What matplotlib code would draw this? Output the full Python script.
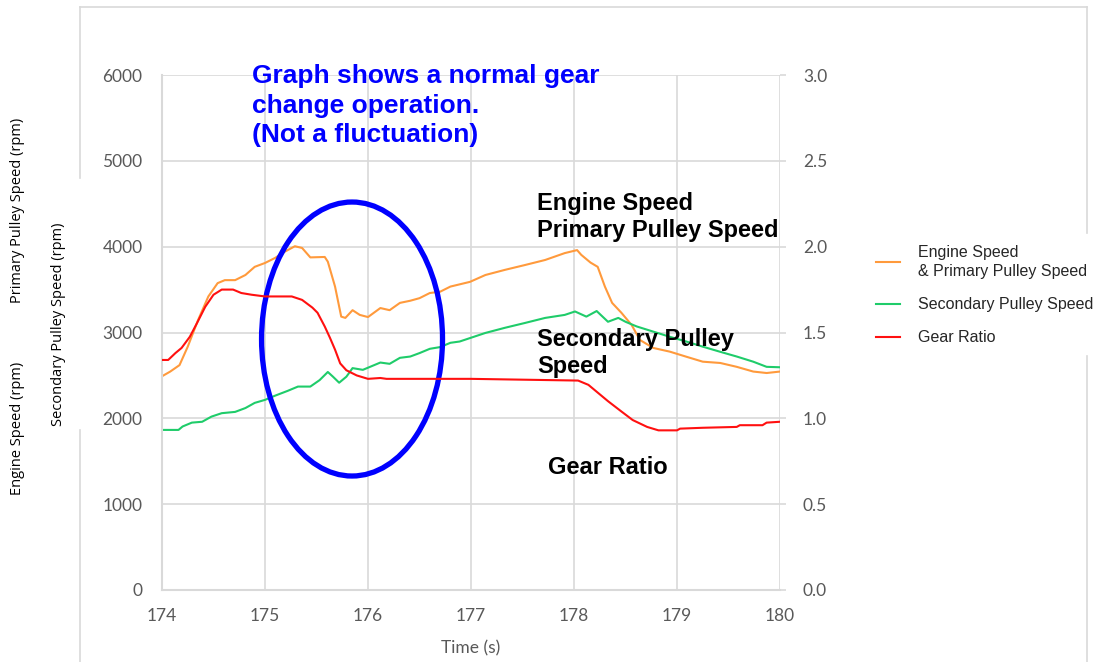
import matplotlib
matplotlib.use('Agg')
import matplotlib.pyplot as plt
from matplotlib.patches import Ellipse
from matplotlib.lines import Line2D

# data
eng_t = [174.00, 174.08, 174.17, 174.25, 174.35, 174.45, 174.54, 174.61, 174.71, 174.81,
         174.90, 175.00, 175.10, 175.19, 175.29, 175.36, 175.44, 175.58, 175.61, 175.68,
         175.74, 175.78, 175.85, 175.92, 176.00, 176.12, 176.21, 176.31, 176.41, 176.50,
         176.60, 176.70, 176.80, 176.99, 177.14, 177.33, 177.52, 177.72, 177.91, 178.03,
         178.07, 178.16, 178.23, 178.30, 178.37, 178.46, 178.56, 178.64, 178.77, 178.93,
         179.09, 179.25, 179.42, 179.58, 179.74, 179.87, 180.00]
eng_rpm = [2490, 2545, 2620, 2835, 3145, 3420, 3575, 3610, 3610, 3670,
           3765, 3810, 3870, 3940, 4005, 3985, 3875, 3880, 3825, 3535,
           3185, 3170, 3260, 3205, 3180, 3285, 3260, 3345, 3370, 3400,
           3460, 3475, 3535, 3590, 3670, 3730, 3785, 3845, 3925, 3960,
           3905, 3815, 3765, 3535, 3345, 3230, 3087, 2913, 2820, 2777,
           2718, 2660, 2645, 2600, 2545, 2528, 2545]

sec_t = [174.00, 174.16, 174.20, 174.29, 174.39, 174.48, 174.58, 174.71, 174.81, 174.90,
         175.00, 175.10, 175.22, 175.32, 175.44, 175.53, 175.61, 175.66, 175.72, 175.79,
         175.85, 175.95, 176.02, 176.12, 176.21, 176.31, 176.41, 176.50, 176.60, 176.70,
         176.80, 176.89, 176.99, 177.14, 177.33, 177.52, 177.72, 177.91, 178.01, 178.12,
         178.22, 178.33, 178.43, 178.50, 178.61, 178.77, 178.93, 179.09, 179.25, 179.42,
         179.58, 179.74, 179.87, 180.00]
sec_rpm = [1865, 1865, 1905, 1950, 1960, 2020, 2060, 2075, 2120, 2180,
           2215, 2265, 2320, 2370, 2370, 2445, 2540, 2485, 2415, 2485,
           2585, 2565, 2600, 2650, 2635, 2705, 2720, 2760, 2810, 2830,
           2880, 2895, 2935, 2995, 3055, 3110, 3170, 3205, 3245, 3185,
           3250, 3125, 3170, 3125, 3070, 3010, 2950, 2895, 2835, 2775,
           2720, 2660, 2600, 2595]

gear_t = [174.00, 174.06, 174.13, 174.19, 174.27, 174.34, 174.42, 174.50, 174.58, 174.69,
          174.77, 174.87, 175.00, 175.16, 175.26, 175.36, 175.46, 175.51, 175.58, 175.63,
          175.68, 175.73, 175.79, 175.89, 176.00, 176.12, 176.18, 177.00, 178.04, 178.14,
          178.23, 178.33, 178.46, 178.57, 178.71, 178.82, 179.00, 179.03, 179.25, 179.58,
          179.61, 179.83, 179.87, 180.00]
gear_ratio = [1.34, 1.34, 1.38, 1.41, 1.475, 1.555, 1.65, 1.72, 1.75, 1.75,
              1.73, 1.72, 1.71, 1.71, 1.71, 1.69, 1.645, 1.615, 1.535, 1.47,
              1.40, 1.32, 1.28, 1.25, 1.23, 1.235, 1.23, 1.23, 1.22, 1.195,
              1.15, 1.10, 1.04, 0.99, 0.95, 0.93, 0.93, 0.94, 0.945, 0.95,
              0.96, 0.96, 0.975, 0.98]

x_ticks = [174, 175, 176, 177, 178, 179, 180]
rpm_ticks = [0, 1000, 2000, 3000, 4000, 5000, 6000]
ratio_ticks = [0.0, 0.5, 1.0, 1.5, 2.0, 2.5, 3.0]

ORANGE = '#ff9a3c'
GREEN = '#1fcc6a'
RED = '#ff1010'
BLUE = '#0000ff'
GRAY = '#595959'
GRID = '#d9d9d9'

W, H = 1114, 662
fig = plt.figure(figsize=(W / 100, H / 100), dpi=100)
ax = fig.add_axes([162 / W, 1 - 590 / H, (780 - 162) / W, (590 - 75) / H])
ax2 = ax.twinx()

l1, = ax.plot(eng_t, eng_rpm, color=ORANGE, lw=1.5)
l2, = ax.plot(sec_t, sec_rpm, color=GREEN, lw=1.5)
l3, = ax2.plot(gear_t, gear_ratio, color=RED, lw=1.5)

ax.set_xlim(174, 180)
ax.set_ylim(0, 6000)
ax2.set_ylim(0, 3.0)
ax.set_xticks(x_ticks)
ax.set_yticks(rpm_ticks)
ax2.set_yticks(ratio_ticks)
ax2.set_yticklabels(['%.1f' % v for v in ratio_ticks])

ax.grid(True, color=GRID, lw=1.2)
ax.set_axisbelow(True)
for a in (ax, ax2):
    for s in a.spines.values():
        s.set_visible(False)
ax.spines['left'].set_visible(True)
ax.spines['left'].set_color(GRID)
ax.spines['left'].set_linewidth(1.5)
ax.spines['bottom'].set_visible(True)
ax.spines['bottom'].set_color(GRID)
ax.spines['bottom'].set_linewidth(1.5)

ax.tick_params(axis='y', length=0, pad=14, colors=GRAY, labelsize=12.5)
ax.tick_params(axis='x', length=0, pad=13, colors=GRAY, labelsize=12.5)
ax2.tick_params(axis='y', length=4.5, width=1.2, color=GRID, pad=12, labelcolor=GRAY, labelsize=12.5)
for lab in ax.get_xticklabels() + ax.get_yticklabels() + ax2.get_yticklabels():
    lab.set_family('Lato')

ax.set_xlabel('Time (s)', family='Lato', size=12.5, color=GRAY, labelpad=12)

# blue circle around the shift
ell = Ellipse((175.845, 2924), 1.757, 3192, fill=False, edgecolor=BLUE, lw=3.8, zorder=5)
ax.add_patch(ell)

fig.text(252 / W, 1 - 64 / H, 'Graph shows a normal gear\nchange operation.\n(Not a fluctuation)',
         family='Liberation Sans', weight='bold', size=19, color=BLUE, va='top', ha='left',
         linespacing=1.3)
fig.text(537 / W, 1 - 192 / H, 'Engine Speed\nPrimary Pulley Speed', family='Liberation Sans',
         weight='bold', size=17, color='black', va='top', ha='left', linespacing=1.2)
fig.text(537 / W, 1 - 328 / H, 'Secondary Pulley\nSpeed', family='Liberation Sans',
         weight='bold', size=17, color='black', va='top', ha='left', linespacing=1.2)
fig.text(548 / W, 1 - 467 / H, 'Gear Ratio', family='Liberation Sans',
         weight='bold', size=17, color='black', va='center', ha='left')

# rotated axis titles on the left
lab_kw = dict(family='Open Sans', size=10.5, color='black', rotation=90, ha='center', va='center')
fig.text(18 / W, 1 - 210 / H, 'Primary Pulley Speed (rpm)', **lab_kw)
fig.text(58 / W, 1 - 324 / H, 'Secondary Pulley Speed (rpm)', **lab_kw)
fig.text(18 / W, 1 - 428 / H, 'Engine Speed (rpm)', **lab_kw)

# legend
leg = fig.legend([l1, l2, l3],
                 ['Engine Speed\n& Primary Pulley Speed', 'Secondary Pulley Speed', 'Gear Ratio'],
                 loc='center left', bbox_to_anchor=(862 / W, 1 - 295 / H), frameon=False,
                 prop={'family': 'Liberation Sans', 'size': 11.5}, handlelength=1.45,
                 handletextpad=1.15, labelspacing=1.15, labelcolor='#262626')
for t in leg.get_texts():
    t.set_linespacing(1.35)

# outer chart frame (broken where the labels and legend sit)
frame = [((80, 80), (7, 178)), ((80, 80), (430, 662)), ((80, 1087), (7, 7)),
         ((1087, 1087), (7, 233)), ((1087, 1087), (356, 662))]
for xs, ys in frame:
    fig.add_artist(Line2D([x / W for x in xs], [1 - y / H for y in ys],
                          transform=fig.transFigure, color=GRID, lw=1.2))

fig.savefig('out.png', dpi=100, facecolor='white')
